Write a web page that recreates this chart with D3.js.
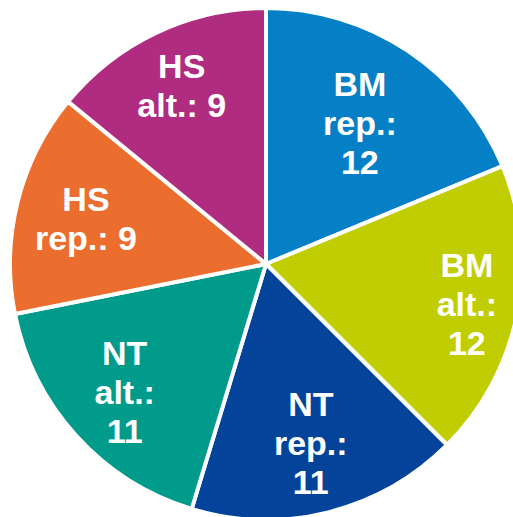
<!DOCTYPE html>
<html>
<head>
<meta charset="utf-8">
<script src="https://cdn.jsdelivr.net/npm/d3@7"></script>
<style>
  html, body { margin: 0; padding: 0; background: #fff; overflow: hidden; }
</style>
</head>
<body>
<div class="chart"></div>
<script>
// data
const groups = ['BM', 'BM', 'NT', 'NT', 'HS', 'HS'];
const kinds = ['rep.:', 'alt.:', 'rep.:', 'alt.:', 'rep.:', 'alt.:'];
const values = [12, 12, 11, 11, 9, 9];
const colors = ['#0580c6', '#c0cd00', '#03449a', '#009b8a', '#ec6e2f', '#b02c80'];

// layout
const width = 513, height = 517;
const cx = 266, cy = 264, radius = 256;
// label distance from centre, as a share of the radius (best-fit placement)
const labelPos = [0.66, 0.8, 0.72, 0.745, 0.725, 0.77];

const svg = d3.select('.chart')
  .append('svg')
  .attr('width', width)
  .attr('height', height);

const g = svg.append('g')
  .attr('transform', `translate(${cx},${cy})`);

const slices = values.map((v, i) => ({ value: v, group: groups[i], kind: kinds[i], color: colors[i] }));

const pie = d3.pie()
  .sort(null)
  .value(d => d.value);

const arc = d3.arc()
  .innerRadius(0)
  .outerRadius(radius);

const arcs = pie(slices);

g.selectAll('path.slice')
  .data(arcs)
  .enter()
  .append('path')
  .attr('class', 'slice')
  .attr('d', arc)
  .attr('fill', d => d.data.color)
  .attr('stroke', '#fff')
  .attr('stroke-width', 4)
  .attr('stroke-linejoin', 'round');

// labels: two-digit values wrap onto a third line
const lineH = 39;
const label = g.selectAll('text.label')
  .data(arcs)
  .enter()
  .append('text')
  .attr('class', 'label')
  .attr('transform', (d, i) => {
    const r = radius * labelPos[i];
    const c = d3.arc().innerRadius(r).outerRadius(r).centroid(d);
    return `translate(${c})`;
  })
  .attr('text-anchor', 'middle')
  .attr('fill', '#fff')
  .style('font-family', '"Liberation Sans", Arial, sans-serif')
  .style('font-weight', 'bold')
  .style('font-size', '34px');

label.each(function (d) {
  const lines = d.data.value >= 10
    ? [d.data.group, d.data.kind, String(d.data.value)]
    : [d.data.group, d.data.kind + ' ' + d.data.value];
  const t = d3.select(this);
  const y0 = -(lines.length - 1) * lineH / 2;
  lines.forEach((s, i) => {
    t.append('tspan')
      .attr('x', 0)
      .attr('y', y0 + i * lineH)
      .attr('dy', '0.35em')
      .text(s);
  });
});
</script>
</body>
</html>
